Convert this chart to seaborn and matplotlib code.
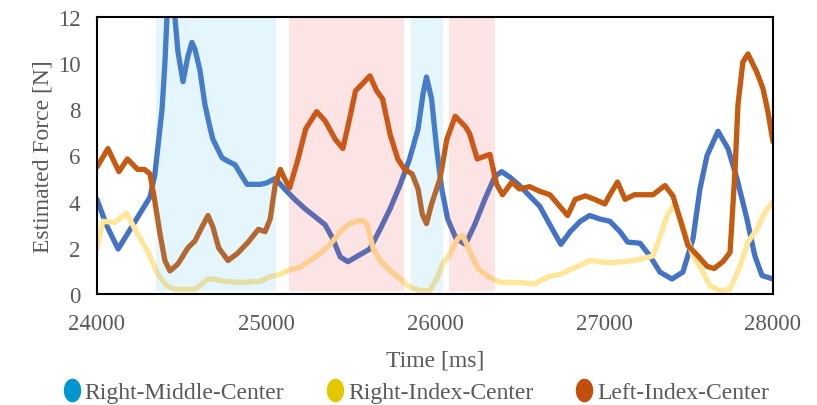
import numpy as np
import pandas as pd
import matplotlib
matplotlib.use("Agg")
import matplotlib.pyplot as plt
from matplotlib.lines import Line2D
from matplotlib.path import Path
import seaborn as sns

# ---- data ----
blue_t = [24000, 24055, 24125, 24180, 24255, 24314, 24343, 24361, 24385, 24402, 24414, 24430,
          24445, 24461, 24479, 24509, 24538, 24562, 24580, 24609, 24639, 24669, 24686, 24740,
          24775, 24817, 24858, 24888, 24965, 25000,
          25055, 25110, 25170, 25230, 25290, 25350, 25395, 25440, 25485, 25555, 25615, 25675,
          25735, 25795, 25850, 25900, 25930, 25950, 25980, 26010, 26040, 26075, 26125, 26180,
          26235, 26295, 26355, 26395, 26445, 26500, 26560, 26620, 26680, 26745, 26800, 26860,
          26915, 26975, 27035, 27095, 27140, 27213, 27272, 27331, 27402, 27467, 27527, 27568,
          27610, 27675, 27734, 27787, 27846, 27893, 27935, 28000]
blue_v = [4.1, 3.0, 1.95, 2.6, 3.5, 4.2, 5.2, 6.4, 8.0, 10.0, 12.0, 13.3,
          13.3, 12.0, 10.5, 9.2, 10.3, 10.9, 10.6, 9.7, 8.2, 7.2, 6.7, 5.9,
          5.75, 5.6, 5.1, 4.75, 4.75, 4.8,
          5.0, 4.55, 4.1, 3.7, 3.35, 3.0, 2.4, 1.6, 1.4, 1.7, 1.95, 2.8,
          3.7, 4.75, 5.85, 7.15, 8.7, 9.4, 8.45, 6.3, 4.55, 3.25, 2.4, 2.15,
          3.0, 4.1, 5.1, 5.3, 5.05, 4.7, 4.25, 3.8, 3.0, 2.15, 2.7, 3.15,
          3.4, 3.25, 3.15, 2.7, 2.25, 2.2, 1.65, 0.95, 0.65, 0.95, 2.4, 4.55,
          6.0, 7.05, 6.3, 5.0, 3.25, 1.65, 0.8, 0.65]

yellow_t = [24000, 24035, 24105, 24175, 24240, 24300, 24361, 24414, 24461, 24580, 24657, 24690,
            24755, 24845, 24965, 25025, 25085, 25140, 25200, 25260, 25320,
            25380, 25440, 25495, 25540, 25570, 25600, 25635, 25675, 25735, 25795, 25850, 25910,
            25970, 26010, 26045, 26090, 26135, 26165, 26205, 26255, 26315, 26385, 26500, 26590,
            26670, 26740, 26830, 26915, 27035, 27125, 27213, 27290, 27343, 27373, 27420, 27467,
            27527, 27586, 27627, 27687, 27746, 27805, 27852, 27905, 27953, 28000]
yellow_v = [1.95, 3.15, 3.1, 3.5, 2.6, 1.85, 0.85, 0.35, 0.2, 0.2, 0.65, 0.65,
            0.55, 0.5, 0.55, 0.75, 0.85, 1.05, 1.15, 1.45, 1.75,
            2.15, 2.7, 3.05, 3.15, 3.2, 3.0, 1.95, 1.45, 1.0, 0.65, 0.3, 0.15,
            0.15, 0.65, 1.3, 1.75, 2.4, 2.55, 1.85, 1.1, 0.75, 0.5, 0.5, 0.43,
            0.75, 0.85, 1.15, 1.45, 1.35, 1.4, 1.5, 1.65, 2.7, 3.4, 3.9, 2.95,
            1.65, 0.95, 0.35, 0.15, 0.2, 1.2, 2.25, 2.8, 3.55, 4.0]

orange_t = [24000, 24065, 24130, 24180, 24240, 24280, 24314, 24343, 24373, 24402, 24432,
            24479, 24538, 24580, 24621, 24657, 24686, 24720, 24775, 24830, 24895, 24955, 24995,
            25025, 25055, 25085, 25110, 25140, 25190, 25235, 25300, 25350, 25410, 25455, 25495,
            25530, 25570, 25615, 25655, 25690, 25735, 25780, 25820, 25865, 25900, 25925, 25950,
            25980, 26030, 26070, 26120, 26180, 26205, 26250, 26325, 26365, 26400, 26455, 26500,
            26560, 26620, 26680, 26785, 26830, 26890, 26945, 27005, 27035, 27080, 27125, 27180,
            27240, 27290, 27361, 27408, 27450, 27497, 27556, 27610, 27651, 27704, 27746, 27775,
            27793, 27822, 27852, 27905, 27941, 27970, 28000]
orange_v = [5.5, 6.3, 5.3, 5.85, 5.4, 5.4, 5.2, 4.0, 2.6, 1.45, 1.0,
            1.3, 2.0, 2.3, 2.9, 3.4, 2.9, 2.0, 1.45, 1.75, 2.25, 2.8, 2.7,
            3.25, 4.75, 5.4, 5.0, 4.6, 5.85, 7.15, 7.9, 7.5, 6.7, 6.3, 7.6,
            8.8, 9.1, 9.45, 8.8, 8.45, 6.9, 5.85, 5.4, 5.2, 4.55, 3.45, 3.05,
            3.9, 5.0, 6.7, 7.7, 7.25, 6.95, 5.85, 6.05, 4.75, 4.3, 4.85, 4.55,
            4.65, 4.45, 4.3, 3.4, 4.1, 4.25, 4.1, 3.9, 4.3, 4.85, 4.1, 4.3,
            4.3, 4.3, 4.7, 4.25, 3.25, 2.1, 1.65, 1.2, 1.1, 1.4, 1.8, 5.3,
            8.2, 10.05, 10.4, 9.6, 8.9, 7.9, 6.6]

series_names = ["Right-Middle-Center", "Right-Index-Center", "Left-Index-Center"]
line_colors = ["#4472C4", "#FFE699", "#C55A11"]
legend_colors = ["#0096CE", "#E3C800", "#C04F0E"]

# shaded intervals (start, end) in ms
blue_spans = [(24350, 25060), (25860, 26045)]
pink_spans = [(25135, 25815), (26083, 26355)]

x_ticks = [24000, 25000, 26000, 27000, 28000]
y_ticks = [0, 2, 4, 6, 8, 10, 12]

# ---- build long-form table ----
frames = []
for name, t, v in zip(series_names, [blue_t, yellow_t, orange_t], [blue_v, yellow_v, orange_v]):
    frames.append(pd.DataFrame({"Time": t, "Force": v, "Series": name}))
df = pd.concat(frames, ignore_index=True)

sns.set_theme(style="white")
plt.rcParams["font.family"] = ["Liberation Serif", "DejaVu Serif"]
gray = "#595959"

fig = plt.figure(figsize=(8.17, 4.06), dpi=100)
ax = fig.add_axes([0.1187, 0.2734, 0.8274, 0.6823])

sns.lineplot(data=df, x="Time", y="Force", hue="Series", hue_order=series_names,
             palette=dict(zip(series_names, line_colors)), sort=False,
             linewidth=3.8, legend=False, ax=ax, zorder=2)
for ln in ax.get_lines():
    ln.set_solid_joinstyle("round")
    ln.set_solid_capstyle("round")

for s, e in blue_spans:
    ax.fill_between([s, e], 0.15, 12.05, color="#52BCEB", alpha=0.15, lw=0, zorder=3)
for s, e in pink_spans:
    ax.fill_between([s, e], 0.15, 12.05, color="#F24B4B", alpha=0.15, lw=0, zorder=3)

ax.set_xlim(24000, 28000)
ax.set_ylim(0, 12)
ax.set_xticks(x_ticks)
ax.set_yticks(y_ticks)
ax.set_xticklabels([str(t) for t in x_ticks])
ax.set_yticklabels([str(t) for t in y_ticks])
ax.tick_params(axis="both", direction="in", length=5, width=1.3, colors="black",
               labelcolor=gray, labelsize=16.5)
ax.tick_params(axis="x", pad=14)
ax.tick_params(axis="y", pad=12)
for sp in ax.spines.values():
    sp.set_visible(True)
    sp.set_color("black")
    sp.set_linewidth(1.5)
    sp.set_zorder(5)

ax.set_xlabel("Time [ms]", fontsize=17, color=gray, labelpad=11)
ax.set_ylabel("Estimated Force [N]", fontsize=17, color=gray, labelpad=3)
ax.grid(False)

# ellipse marker for legend
theta = np.linspace(0, 2 * np.pi, 60)
ell = Path(np.column_stack([0.72 * np.cos(theta), np.sin(theta)]), closed=True)
handles = [Line2D([], [], linestyle="none", marker=ell, markersize=16,
                  markerfacecolor=c, markeredgecolor=c) for c in legend_colors]
fig.legend(handles, series_names, loc="center", bbox_to_anchor=(0.507, 0.032),
           ncol=3, frameon=False, fontsize=17, handletextpad=0.05,
           columnspacing=1.65, labelcolor=gray, handlelength=1.0)

fig.savefig("out.png", dpi=100)
